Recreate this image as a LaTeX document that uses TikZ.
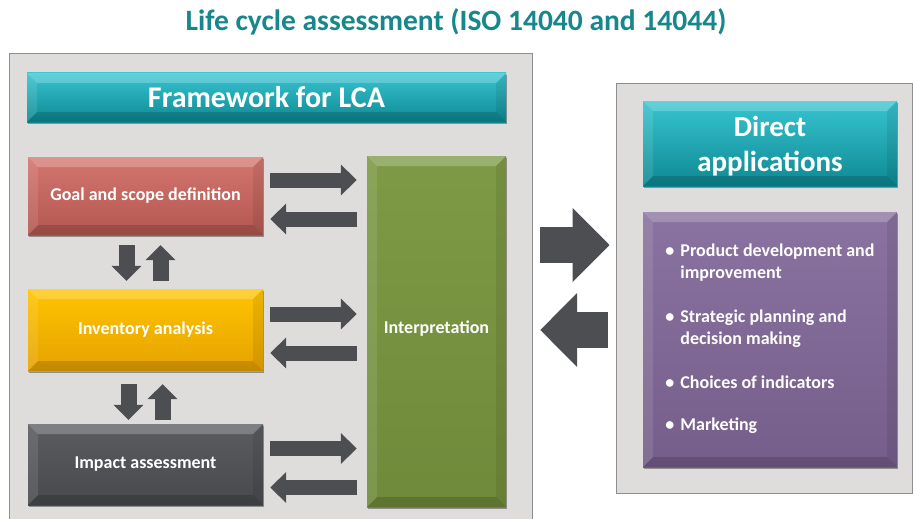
\documentclass[tikz,border=0pt]{standalone}
\usepackage{fontspec}
\setmainfont{Carlito}
\usetikzlibrary{arrows.meta,shadows,calc}

\definecolor{titleteal}{HTML}{17878C}
\definecolor{panelfill}{HTML}{DEDDDC}
\definecolor{panelline}{HTML}{8E8E8E}
\definecolor{tealtop}{HTML}{38C4D0}
\definecolor{tealbot}{HTML}{0D8993}
\definecolor{goaltop}{HTML}{D4766F}
\definecolor{goalbot}{HTML}{B25750}
\definecolor{invtop}{HTML}{FFC400}
\definecolor{invbot}{HTML}{E6A200}
\definecolor{imptop}{HTML}{5A5C60}
\definecolor{impbot}{HTML}{47494D}
\definecolor{inttop}{HTML}{7E9A46}
\definecolor{intbot}{HTML}{6F8A3A}
\definecolor{purtop}{HTML}{8A73A0}
\definecolor{purbot}{HTML}{755E8A}
\definecolor{arrowgray}{HTML}{4C4E52}

\tikzset{
  bevel/.style={path picture={
    \path (path picture bounding box.north west) coordinate (pNW)
          (path picture bounding box.north east) coordinate (pNE)
          (path picture bounding box.south west) coordinate (pSW)
          (path picture bounding box.south east) coordinate (pSE);
    \fill[white,opacity=0.22] (pNW) -- (pNE) -- ([shift={(-#1,-#1)}]pNE) -- ([shift={(#1,-#1)}]pNW) -- cycle;
    \fill[white,opacity=0.10] (pNW) -- ([shift={(#1,-#1)}]pNW) -- ([shift={(#1,#1)}]pSW) -- (pSW) -- cycle;
    \fill[black,opacity=0.08] (pNE) -- ([shift={(-#1,-#1)}]pNE) -- ([shift={(-#1,#1)}]pSE) -- (pSE) -- cycle;
    \fill[black,opacity=0.15] (pSW) -- ([shift={(#1,#1)}]pSW) -- ([shift={(-#1,#1)}]pSE) -- (pSE) -- cycle;
  }},
  bevel/.default=10pt,
  box/.style={inner sep=0pt, text=white, align=center, bevel,
    drop shadow={shadow xshift=1pt, shadow yshift=-2pt, opacity=0.35, fill=black},
    font=\bfseries\fontsize{18}{22}\selectfont},
  panel/.style={inner sep=0pt, fill=panelfill},
  smallarrow/.style={draw=arrowgray, line width=15pt, -{Triangle[length=16pt,width=30pt]}},
  vertarrow/.style={draw=arrowgray, line width=16pt, -{Triangle[length=15pt,width=29pt]}},
  bigarrow/.style={draw=arrowgray, line width=36pt, -{Triangle[length=37pt,width=72pt]}},
}

\begin{document}
\begin{tikzpicture}[x=1pt,y=-1pt]
\useasboundingbox[fill=white] (0,0) rectangle (913,519);

% title
\node[text=titleteal, font=\bfseries\fontsize{29.5}{34}\selectfont] (title) at (456,22) {Life cycle assessment (ISO 14040 and 14044)};

% panels
\node[panel, minimum width=522pt, minimum height=465pt] (leftpanel) at (271,286.5) {};
\draw[panelline, line width=0.8pt] (leftpanel.south west) |- (leftpanel.north east) -- (leftpanel.south east);
\node[panel, draw=panelline, line width=0.8pt, minimum width=296pt, minimum height=410pt] (rightpanel) at (764,288) {};

% left panel contents
\node[box, top color=tealtop, bottom color=tealbot, minimum width=479pt, minimum height=49pt,
      font=\bfseries\fontsize{30}{34}\selectfont] (frame) at (266.5,97.5) {Framework for LCA};
\node[box, top color=goaltop, bottom color=goalbot, minimum width=235pt, minimum height=78pt] (goal) at (145.5,196) {Goal and scope definition};
\node[box, top color=invtop, bottom color=invbot, minimum width=235pt, minimum height=82pt] (inv) at (145.5,330) {Inventory analysis};
\node[box, top color=imptop, bottom color=impbot, minimum width=235pt, minimum height=81pt] (imp) at (145.5,464.5) {Impact assessment};
\node[box, top color=inttop, bottom color=intbot, minimum width=139pt, minimum height=351pt] (interp) at (436.5,331.5) {\raisebox{3pt}[\height][\depth]{Interpretation}};

% right panel contents
\node[box, top color=tealtop, bottom color=tealbot, minimum width=254pt, minimum height=85pt,
      font=\bfseries\fontsize{29}{35}\selectfont] (direct) at (770,143.5)
  {\raisebox{-3pt}[\height][\depth]{\begin{tabular}{@{}c@{}}Direct\\applications\end{tabular}}};
\node[box, top color=purtop, bottom color=purbot, minimum width=254pt, minimum height=255pt] (apps) at (770,339.5)
  {\begin{tabular}{@{}l@{\hspace{6pt}}l@{}}
   \textbullet & Product development and\\
               & improvement\\[22pt]
   \textbullet & Strategic planning and\\
               & decision making\\[22pt]
   \textbullet & Choices of indicators\\[20pt]
   \textbullet & Marketing
   \end{tabular}};

% horizontal arrows to/from interpretation
\foreach \b in {goal,inv,imp}{
  \draw[smallarrow, shorten <=7pt, shorten >=10pt] ([yshift=16pt]\b.east) -- ([yshift=16pt]\b.east -| interp.west);
  \draw[smallarrow, shorten <=10pt, shorten >=7pt] ([yshift=-23pt]\b.east -| interp.west) -- ([yshift=-23pt]\b.east);
}

% vertical arrows
\draw[vertarrow, shorten <=10pt, shorten >=8pt] ([xshift=-19pt]goal.south) -- ([xshift=-19pt]goal.south |- inv.north);
\draw[vertarrow, shorten <=8pt, shorten >=10pt] ([xshift=15pt]goal.south |- inv.north) -- ([xshift=15pt]goal.south);
\draw[vertarrow, shorten <=13pt, shorten >=4pt] ([xshift=-17pt]inv.south) -- ([xshift=-17pt]inv.south |- imp.north);
\draw[vertarrow, shorten <=4pt, shorten >=13pt] ([xshift=17pt]inv.south |- imp.north) -- ([xshift=17pt]inv.south);

% big arrows between panels
\draw[bigarrow, shorten <=8pt, shorten >=6pt] ([yshift=41.5pt]leftpanel.east) -- ([yshift=41.5pt]leftpanel.east -| rightpanel.west);
\draw[bigarrow, shorten <=8pt, shorten >=8pt] ([yshift=-43.5pt]leftpanel.east -| rightpanel.west) -- ([yshift=-43.5pt]leftpanel.east);
\end{tikzpicture}
\end{document}
